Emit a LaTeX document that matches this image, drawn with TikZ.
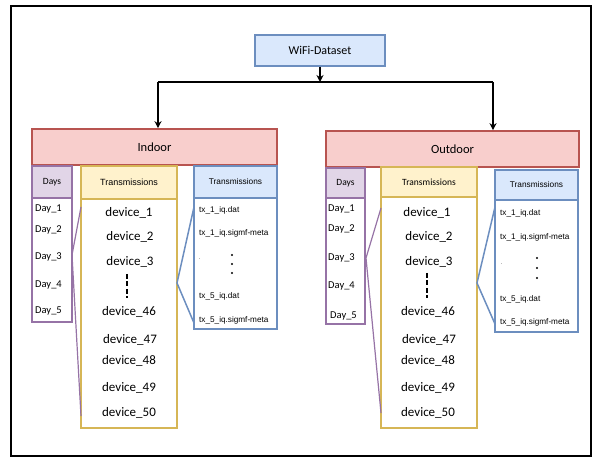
\documentclass[tikz,border=0pt]{standalone}
\usepackage{fontspec}
\setmainfont{Carlito}
\newfontfamily\arialf{Liberation Sans}
\usetikzlibrary{arrows.meta}
\definecolor{redf}{HTML}{F8CECC}\definecolor{redd}{HTML}{B85450}
\definecolor{purf}{HTML}{E1D5E7}\definecolor{purd}{HTML}{9673A6}
\definecolor{yelf}{HTML}{FFF2CC}\definecolor{yeld}{HTML}{D6B656}
\definecolor{bluf}{HTML}{DAE8FC}\definecolor{blud}{HTML}{6C8EBF}
\tikzset{
  box/.style={draw, line width=1.6pt, inner sep=0pt, anchor=center},
  redbox/.style={box, draw=redd, fill=redf, font=\fontsize{12.5}{14}\selectfont},
  purbox/.style={box, draw=purd, fill=purf, font=\fontsize{9.5}{11}\selectfont},
  purbody/.style={box, draw=purd, fill=white},
  yelbox/.style={box, draw=yeld, fill=yelf, font=\arialf\fontsize{9}{11}\selectfont},
  yelbody/.style={box, draw=yeld, fill=white},
  blubox/.style={box, draw=blud, fill=bluf, font=\arialf\fontsize{8.3}{10}\selectfont},
  blubody/.style={box, draw=blud, fill=white},
  daytxt/.style={anchor=west, inner sep=0pt, font=\fontsize{10.5}{12}\selectfont},
  devtxt/.style={inner sep=0pt, font=\fontsize{13}{15}\selectfont},
  txtxt/.style={anchor=west, inner sep=0pt, font=\arialf\fontsize{8.2}{10}\selectfont},
  purlink/.style={draw=purd, line width=1.2pt},
  blulink/.style={draw=blud, line width=1.5pt},
  arr/.style={line width=1.5pt, -{Stealth[length=7pt,width=7pt]}},
  vdash/.style={line width=2.6pt, dash pattern=on 5pt off 2.5pt},
  cdot/.style={fill=black}
}
\begin{document}
\begin{tikzpicture}[x=1pt,y=-1pt]
\useasboundingbox (0,0) rectangle (600,462);
\node[draw=black, line width=1.8pt, minimum width=580pt, minimum height=450pt, inner sep=0pt] (frame) at (301,231) {};

% top
\node[box, draw=blud, fill=bluf, line width=1.4pt, minimum width=130pt, minimum height=31pt, font=\fontsize{12}{14}\selectfont] (wifi) at (320,50.5) {WiFi-Dataset};
\coordinate (j) at (320,82);
\coordinate (jl) at (158,82);
\coordinate (jr) at (493,82);

% ===== Indoor =====
\node[redbox, minimum width=245pt, minimum height=36pt] (in) at (154.5,147) {Indoor};
\node[purbox, minimum width=40pt, minimum height=32pt] (inDaysH) at (52,182) {Days};
\node[purbody, minimum width=40pt, minimum height=124pt] (inDaysB) at (52,260) {};
\node[yelbox, minimum width=96pt, minimum height=33pt] (inTxH) at (129,182.5) {Transmissions};
\node[yelbody, minimum width=96pt, minimum height=229pt] (inTxB) at (129,313.5) {};
\node[blubox, minimum width=83pt, minimum height=32pt] (inFH) at (235.5,182) {Transmissions};
\node[blubody, minimum width=83pt, minimum height=131pt] (inFB) at (235.5,263.5) {};

\node[daytxt] (inD1) at (35,209) {Day\_1};
\node[daytxt] (inD2) at (35,230) {Day\_2};
\node[daytxt] (inD3) at (35,257) {Day\_3};
\node[daytxt] (inD4) at (35,285) {Day\_4};
\node[daytxt] (inD5) at (35,311) {Day\_5};

\node[devtxt] (inv1) at (129,213) {device\_1};
\node[devtxt] (inv2) at (130,237) {device\_2};
\node[devtxt] (inv3) at (130,262) {device\_3};
\coordinate (inda) at (127,274);
\coordinate (indb) at (127,298);
\draw[vdash] (inda) -- (indb);
\node[devtxt] (inv46) at (129,312) {device\_46};
\node[devtxt] (inv47) at (130,340) {device\_47};
\node[devtxt] (inv48) at (129,361) {device\_48};
\node[devtxt] (inv49) at (129,388) {device\_49};
\node[devtxt] (inv50) at (129,413) {device\_50};

\begin{scope}
\clip (inFB.north west) rectangle ([xshift=-1pt]inFB.south east);
\node[txtxt] (inf1) at (199,210) {tx\_1\_iq.dat};
\node[txtxt] (inf2) at (199,233) {tx\_1\_iq.sigmf-meta};
\node[txtxt] (inf3) at (199,296) {tx\_5\_iq.dat};
\node[txtxt] (inf4) at (199,320) {tx\_5\_iq.sigmf-meta};
\node[txtxt, font=\fontsize{5}{6}\selectfont] (infdot) at (199,259) {.};
\end{scope}
\fill[cdot] (232,255) circle (1.2pt) (232,264) circle (1.2pt) (232,273) circle (1.2pt);

\coordinate (inPa) at (81,207);
\coordinate (inPm) at (72,255);
\coordinate (inPb) at (81,416);
\draw[purlink] (inPa) -- (inPm) -- (inPb);
\coordinate (inBm) at (177,283);
\coordinate (inBa) at (194,207);
\coordinate (inBb) at (194,323);
\draw[blulink] (inBa) -- (inBm) -- (inBb);

% ===== Outdoor =====
\node[redbox, minimum width=253pt, minimum height=36pt] (out) at (452.5,149) {Outdoor};
\node[purbox, minimum width=39pt, minimum height=30pt] (outDaysH) at (345.5,183) {Days};
\node[purbody, minimum width=39pt, minimum height=126pt] (outDaysB) at (345.5,261) {};
\node[yelbox, minimum width=96pt, minimum height=30pt, font=\fontsize{9.5}{11}\selectfont] (outTxH) at (429,182) {Transmissions};
\node[yelbody, minimum width=96pt, minimum height=231pt] (outTxB) at (429,312.5) {};
\node[blubox, minimum width=83pt, minimum height=30pt] (outFH) at (536.5,185) {Transmissions};
\node[blubody, minimum width=83pt, minimum height=132pt] (outFB) at (536.5,266) {};

\node[daytxt] (outD1) at (328,209) {Day\_1};
\node[daytxt] (outD2) at (328,229) {Day\_2};
\node[daytxt] (outD3) at (328,258) {Day\_3};
\node[daytxt] (outD4) at (328,286) {Day\_4};
\node[daytxt] (outD5) at (330,316) {Day\_5};

\node[devtxt] (outv1) at (427,213) {device\_1};
\node[devtxt] (outv2) at (429,237) {device\_2};
\node[devtxt] (outv3) at (429,262) {device\_3};
\coordinate (outda) at (427,273);
\coordinate (outdb) at (427,298);
\draw[vdash] (outda) -- (outdb);
\node[devtxt] (outv46) at (428,312) {device\_46};
\node[devtxt] (outv47) at (429,340) {device\_47};
\node[devtxt] (outv48) at (428,361) {device\_48};
\node[devtxt] (outv49) at (428,388) {device\_49};
\node[devtxt] (outv50) at (428,413) {device\_50};

\begin{scope}
\clip (outFB.north west) rectangle ([xshift=-1pt]outFB.south east);
\node[txtxt] (outf1) at (500,213) {tx\_1\_iq.dat};
\node[txtxt] (outf2) at (500,237) {tx\_1\_iq.sigmf-meta};
\node[txtxt] (outf3) at (500,299) {tx\_5\_iq.dat};
\node[txtxt] (outf4) at (500,322) {tx\_5\_iq.sigmf-meta};
\node[txtxt, font=\fontsize{5}{6}\selectfont] (outfdot) at (501,264) {.};
\end{scope}
\fill[cdot] (537,258) circle (1.2pt) (537,268) circle (1.2pt) (537,278) circle (1.2pt);

\coordinate (outPa) at (381,208);
\coordinate (outPm) at (366,258);
\coordinate (outPb) at (381,413);
\draw[purlink] (outPa) -- (outPm) -- (outPb);
\coordinate (outBm) at (477,283);
\coordinate (outBa) at (495,207);
\coordinate (outBb) at (495,324);
\draw[blulink] (outBa) -- (outBm) -- (outBb);

% connectors
\draw[arr] (wifi.south) -- (j);
\draw[line width=1.5pt] (jl) -- (jr);
\draw[arr] (jl) -- (jl |- in.north);
\draw[arr] (jr) -- (jr |- out.north);
\end{tikzpicture}
\end{document}
